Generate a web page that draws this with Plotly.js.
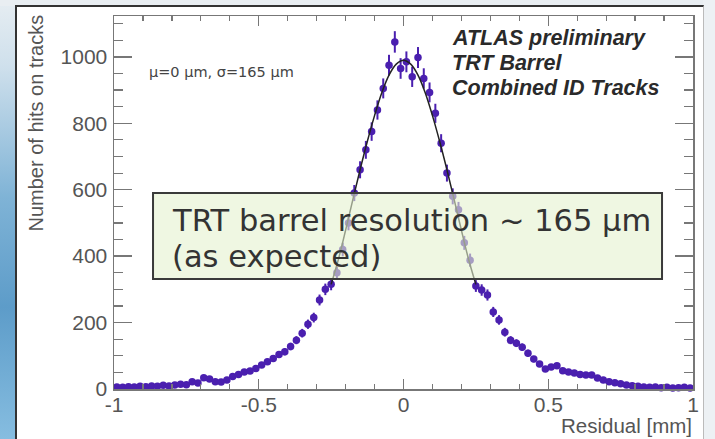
<!DOCTYPE html>
<html>
<head>
<meta charset="utf-8">
<script src="https://cdn.plot.ly/plotly-3.0.1.min.js"></script>
<style>
html,body{margin:0;padding:0;width:715px;height:439px;overflow:hidden;}
body{background:linear-gradient(180deg,#e6edf2 0%,#cfe0ec 15%,#7fb3d6 45%,#5d9cc9 70%,#86bde0 100%);position:relative;}
#topstrip{position:absolute;left:0;top:0;width:715px;height:6px;background:#e9eef2;}
#rightstrip{position:absolute;left:703px;top:0;width:12px;height:439px;background:#edf1f4;}
#frame{position:absolute;left:15px;top:5px;width:686px;height:440px;background:#fff;border-left:2px solid #333;border-top:2px solid #333;border-right:1px solid #bbb;}
#chart{position:absolute;left:0;top:0;width:715px;height:439px;}
</style>
</head>
<body>
<div id="topstrip"></div>
<div id="rightstrip"></div>
<div id="frame"></div>
<div id="chart"></div>
<script>
// Bin centres of the residual histogram (mm), 100 bins of 0.02 from -1 to 1
const binCenters = [
-0.99,-0.97,-0.95,-0.93,-0.91,-0.89,-0.87,-0.85,-0.83,-0.81,
-0.79,-0.77,-0.75,-0.73,-0.71,-0.69,-0.67,-0.65,-0.63,-0.61,
-0.59,-0.57,-0.55,-0.53,-0.51,-0.49,-0.47,-0.45,-0.43,-0.41,
-0.39,-0.37,-0.35,-0.33,-0.31,-0.29,-0.27,-0.25,-0.23,-0.21,
-0.19,-0.17,-0.15,-0.13,-0.11,-0.09,-0.07,-0.05,-0.03,-0.01,
0.01,0.03,0.05,0.07,0.09,0.11,0.13,0.15,0.17,0.19,
0.21,0.23,0.25,0.27,0.29,0.31,0.33,0.35,0.37,0.39,
0.41,0.43,0.45,0.47,0.49,0.51,0.53,0.55,0.57,0.59,
0.61,0.63,0.65,0.67,0.69,0.71,0.73,0.75,0.77,0.79,
0.81,0.83,0.85,0.87,0.89,0.91,0.93,0.95,0.97,0.99];

// Number of hits on tracks per bin
const hitCounts = [
6,5,7,6,8,7,9,8,11,9,
12,14,13,22,18,34,30,22,21,27,
38,44,51,54,62,72,82,92,104,112,
128,147,168,195,215,268,300,315,350,420,
500,590,660,720,775,840,905,975,1045,965,
985,940,998,935,893,830,740,650,580,540,
440,388,310,298,283,232,208,171,147,138,
126,108,90,75,60,66,70,55,51,48,
44,42,42,33,27,22,19,16,12,10,
8,6,5,6,4,5,3,4,5,3];

// Gaussian fit curve (mu = 0, sigma = 165 um)
const fitX = [-0.25,-0.225,-0.2,-0.175,-0.15,-0.125,-0.1,-0.075,-0.05,-0.025,0,
0.025,0.05,0.075,0.1,0.125,0.15,0.175,0.2,0.225,0.25];
const fitY = [315,390,478,570,660,745,823,892,945,978,990,
978,945,892,823,745,660,570,478,390,315];

const xTickVals = [-1,-0.5,0,0.5,1];
const xTickText = ["-1","-0.5","0","0.5","1"];
const yTickVals = [0,200,400,600,800,1000];
const yTickText = ["0","200","400","600","800","1000"];

const markColor = '#4a1faf';

const traces = [
  {
    x: binCenters, y: hitCounts, type: 'scatter', mode: 'markers',
    marker: {color: markColor, size: 7.5},
    error_y: {type: 'sqrt', color: markColor, thickness: 2, width: 0},
    error_x: {type: 'constant', value: 0.01, color: markColor, thickness: 2.5, width: 0},
    cliponaxis: false, showlegend: false, hoverinfo: 'x+y'
  },
  {
    x: fitX, y: fitY, type: 'scatter', mode: 'lines',
    line: {color: '#222', width: 1.5, shape: 'spline'},
    showlegend: false
  }
];

const axisFont = {family: 'Arial, Liberation Sans, sans-serif', size: 21, color: '#555'};

const layout = {
  width: 715, height: 439,
  margin: {l: 114, r: 22, t: 16, b: 50},
  paper_bgcolor: 'rgba(0,0,0,0)',
  plot_bgcolor: '#fff',
  showlegend: false,
  xaxis: {
    range: [-1, 1], tickvals: xTickVals, ticktext: xTickText,
    ticks: 'inside', ticklen: 10, tickwidth: 1.3, tickcolor: '#777',
    minor: {ticks: 'inside', ticklen: 5, dtick: 0.1, tick0: -1, tickcolor: '#777', tickwidth: 1.2},
    showline: true, linecolor: '#777', linewidth: 1.5, mirror: 'ticks',
    showgrid: false, zeroline: false, tickfont: axisFont, ticklabelstandoff: -4
  },
  yaxis: {
    range: [0, 1123], tickvals: yTickVals, ticktext: yTickText,
    ticks: 'inside', ticklen: 18, tickwidth: 1.3, tickcolor: '#777',
    minor: {ticks: 'inside', ticklen: 9, dtick: 50, tick0: 0, tickcolor: '#777', tickwidth: 1.2},
    showline: true, linecolor: '#777', linewidth: 1.5, mirror: 'ticks',
    showgrid: false, zeroline: false, tickfont: axisFont, ticklabelstandoff: 1
  },
  shapes: [
    {type: 'rect', xref: 'paper', yref: 'paper', x0: 0.0674, x1: 0.9465, y0: 0.295, y1: 0.5255,
     fillcolor: 'rgba(228,242,206,0.6)', line: {color: '#3a3a3a', width: 2}, layer: 'above'}
  ],
  annotations: [
    {xref: 'paper', yref: 'paper', x: -0.1347, y: 1.008, xanchor: 'center', yanchor: 'top',
     text: 'Number of hits on tracks', textangle: -90, showarrow: false,
     font: {family: 'Arial, Liberation Sans, sans-serif', size: 20, color: '#555'}},
    {xref: 'paper', yref: 'paper', x: 1.002, y: -0.097, xanchor: 'right', yanchor: 'middle',
     text: 'Residual [mm]', showarrow: false,
     font: {family: 'Arial, Liberation Sans, sans-serif', size: 20.5, color: '#555'}},
    {xref: 'paper', yref: 'paper', x: 0.057, y: 0.85, xanchor: 'left', yanchor: 'middle',
     text: 'μ=0 μm, σ=165 μm', showarrow: false,
     font: {family: 'DejaVu Sans, sans-serif', size: 14.5, color: '#444'}},
    {xref: 'paper', yref: 'paper', x: 0.58, y: 0.941, xanchor: 'left', yanchor: 'middle',
     text: '<b><i>ATLAS preliminary</i></b>', showarrow: false,
     font: {family: 'Arial, Liberation Sans, sans-serif', size: 21.5, color: '#2a2a2a'}},
    {xref: 'paper', yref: 'paper', x: 0.58, y: 0.874, xanchor: 'left', yanchor: 'middle',
     text: '<b><i>TRT Barrel</i></b>', showarrow: false,
     font: {family: 'Arial, Liberation Sans, sans-serif', size: 21.5, color: '#2a2a2a'}},
    {xref: 'paper', yref: 'paper', x: 0.58, y: 0.807, xanchor: 'left', yanchor: 'middle',
     text: '<b><i>Combined ID Tracks</i></b>', showarrow: false,
     font: {family: 'Arial, Liberation Sans, sans-serif', size: 21.5, color: '#2a2a2a'}},
    {xref: 'paper', yref: 'paper', x: 0.0967, y: 0.453, xanchor: 'left', yanchor: 'middle',
     text: 'TRT barrel resolution ~ 165 μm', showarrow: false,
     font: {family: 'DejaVu Sans, Verdana, sans-serif', size: 30.5, color: '#333'}},
    {xref: 'paper', yref: 'paper', x: 0.0967, y: 0.354, xanchor: 'left', yanchor: 'middle',
     text: '(as expected)', showarrow: false,
     font: {family: 'DejaVu Sans, Verdana, sans-serif', size: 30.5, color: '#333'}}
  ]
};

Plotly.newPlot('chart', traces, layout, {staticPlot: true, displayModeBar: false});
</script>
</body>
</html>
